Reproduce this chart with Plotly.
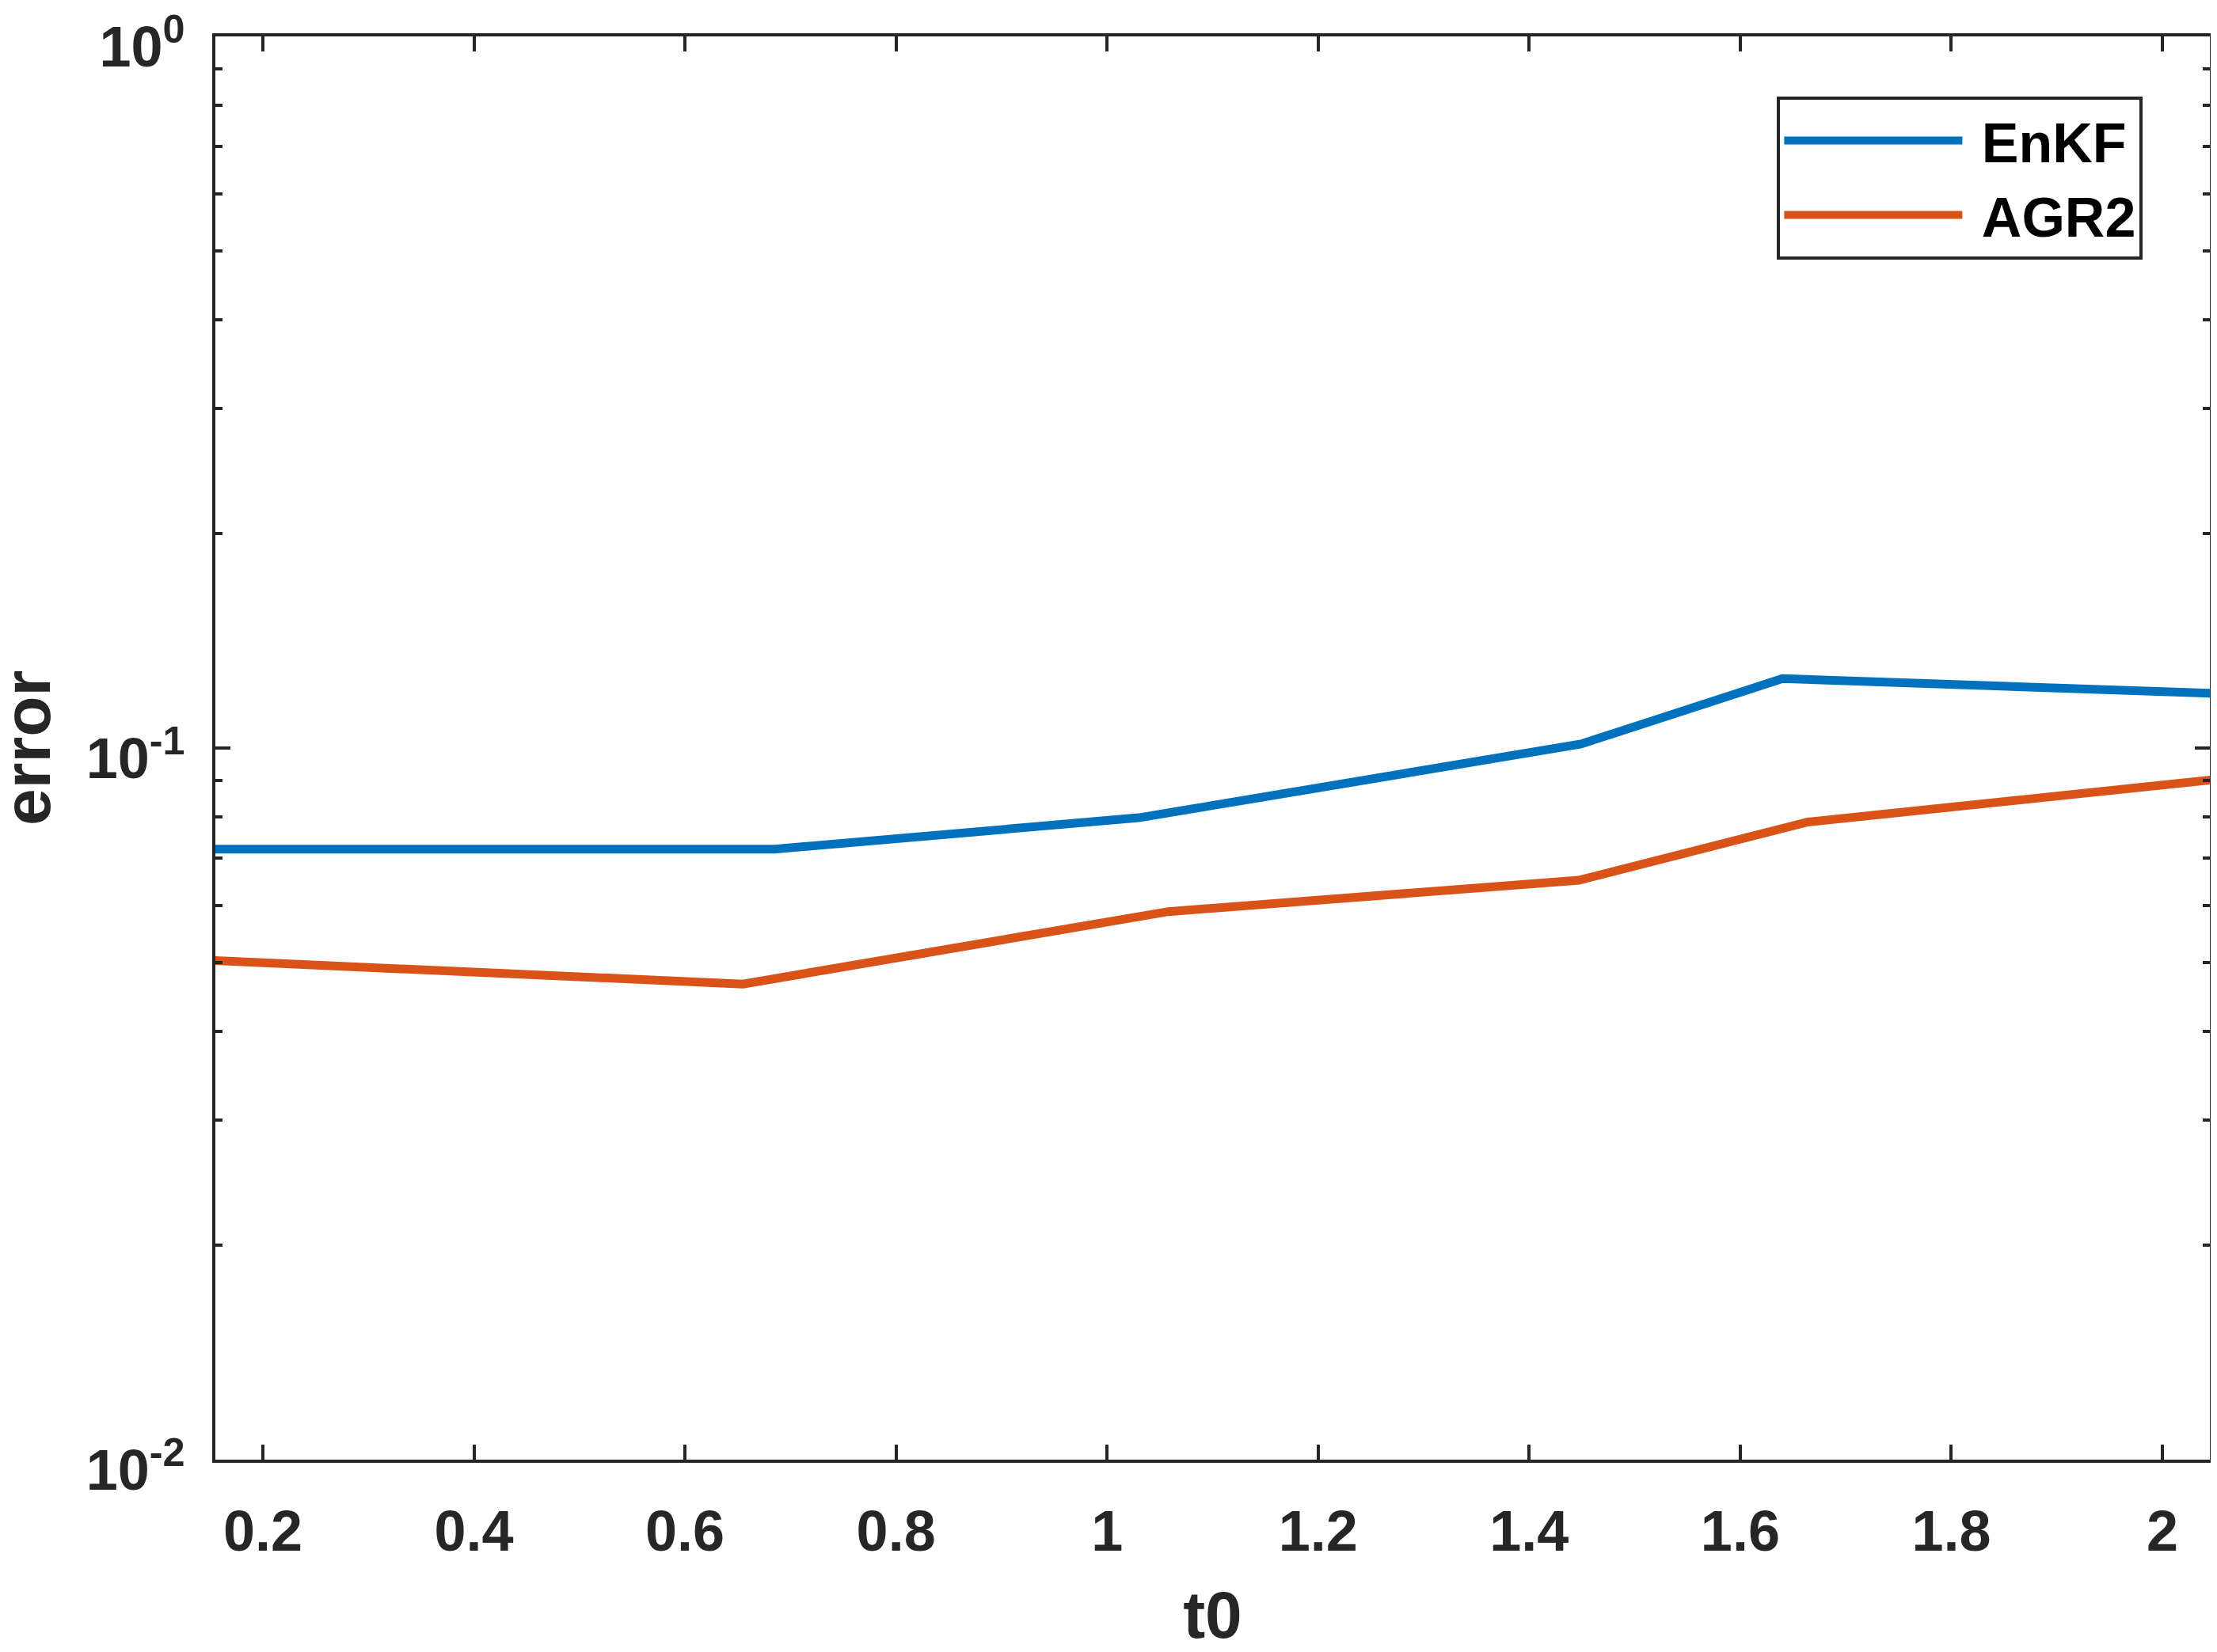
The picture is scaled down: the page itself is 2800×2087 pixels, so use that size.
import plotly.graph_objects as go

# breakpoints
t_enkf = [0.15, 0.685, 1.03, 1.449, 1.64, 2.05]
err_enkf = [0.0721, 0.0721, 0.0798, 0.1013, 0.1252, 0.1193]

t_agr2 = [0.15, 0.655, 1.058, 1.447, 1.664, 2.05]
err_agr2 = [0.0503, 0.0466, 0.0589, 0.0652, 0.0787, 0.0903]

x_ticks = [0.2, 0.4, 0.6, 0.8, 1.0, 1.2, 1.4, 1.6, 1.8, 2.0]
x_labels = ['0.2', '0.4', '0.6', '0.8', '1', '1.2', '1.4', '1.6', '1.8', '2']
y_ticks = [0.01, 0.1, 1]
y_labels = ['10<sup>-2</sup>', '10<sup>-1</sup>', '10<sup>0</sup>']
y_minor = [0.02, 0.03, 0.04, 0.05, 0.06, 0.07, 0.08, 0.09,
           0.2, 0.3, 0.4, 0.5, 0.6, 0.7, 0.8, 0.9]

AXIS = '#262626'
FONT = 'Liberation Sans'

fig = go.Figure()
fig.add_trace(go.Scatter(x=t_enkf, y=err_enkf, mode='lines', name='&nbsp;<b>EnKF</b>',
                         line=dict(color='#0072BD', width=11)))
fig.add_trace(go.Scatter(x=t_agr2, y=err_agr2, mode='lines', name='&nbsp;<b>AGR2</b>',
                         line=dict(color='#D95319', width=11)))

# the page body has an 8px margin, so the figure is a bit smaller than the window
fig.update_layout(
    width=2792, height=2079,
    margin=dict(l=264, r=9, t=38, b=243),
    plot_bgcolor='white', paper_bgcolor='white',
    font=dict(family=FONT, size=72, color=AXIS),
    showlegend=True,
    legend=dict(
        x=0.783, y=0.958, xanchor='left', yanchor='top',
        bgcolor='white', bordercolor=AXIS, borderwidth=4,
        font=dict(family=FONT, size=70, color='black'),
        itemwidth=225,
    ),
    xaxis=dict(
        range=[0.155, 2.045], automargin=False,
        tickmode='array', tickvals=x_ticks, ticktext=['<b>%s</b>' % s for s in x_labels],
        ticks='inside', ticklen=19, tickwidth=4, tickcolor=AXIS,
        showline=True, linewidth=4, linecolor=AXIS, mirror='ticks',
        showgrid=False, zeroline=False,
        ticklabelstandoff=25,
        title=dict(text='<b>t0</b>', font=dict(size=84), standoff=42),
    ),
    yaxis=dict(
        type='log', range=[-2, 0], automargin=False,
        tickmode='array', tickvals=y_ticks, ticktext=['<b>%s</b>' % s for s in y_labels],
        ticks='inside', ticklen=19, tickwidth=4, tickcolor=AXIS,
        minor=dict(tickmode='array', tickvals=y_minor, ticks='inside',
                   ticklen=9, tickwidth=4, tickcolor=AXIS, showgrid=False),
        showline=True, linewidth=4, linecolor=AXIS, mirror='ticks',
        showgrid=False, zeroline=False,
        ticklabelstandoff=20, ticklabeloverflow='allow', ticklabelshift=13,
    ),
)

# y title as an annotation so it can sit closer to the page edge
fig.add_annotation(text='<b>error</b>', xref='paper', yref='paper',
                   x=-0.0945, y=0.5, xanchor='center', yanchor='middle',
                   textangle=-90, showarrow=False,
                   font=dict(family=FONT, size=84, color=AXIS))

fig.write_html("out.html")
